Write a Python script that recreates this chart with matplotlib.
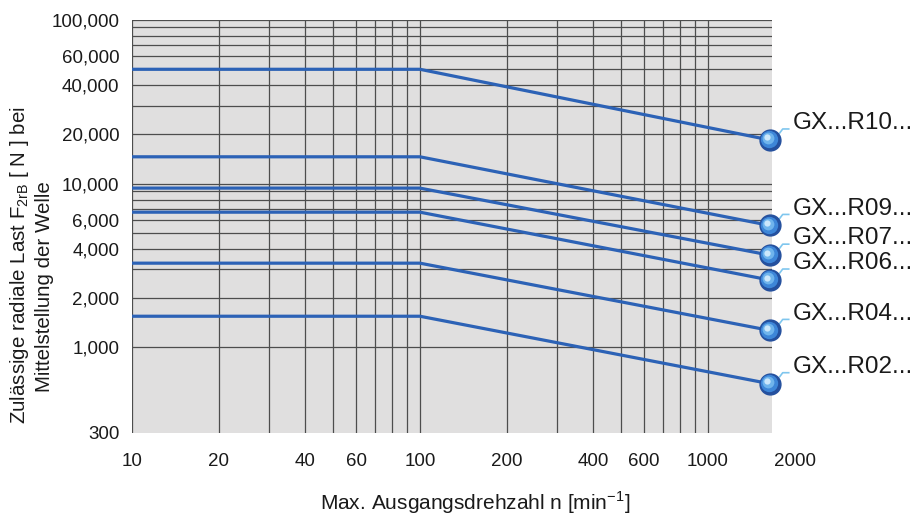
import matplotlib
matplotlib.use("Agg")
import matplotlib.pyplot as plt
import matplotlib.transforms as mtransforms
from matplotlib.ticker import FixedLocator, NullLocator

plt.rcParams['font.family'] = ['Liberation Sans', 'DejaVu Sans']
plt.rcParams['mathtext.fontset'] = 'custom'
plt.rcParams['mathtext.rm'] = 'Liberation Sans'

# speeds: start, knee, end  [min^-1]
speed = [10, 100, 1640]

# permissible radial load per gearbox size [N]: plateau value, value at end
sizes = ["GX...R10...", "GX...R09...", "GX...R07...", "GX...R06...", "GX...R04...", "GX...R02..."]
load_plateau = [50000, 14600, 9400, 6700, 3270, 1550]
load_end = [18500, 5560, 3660, 2580, 1270, 600]

y_ticks = [300, 1000, 2000, 4000, 6000, 10000, 20000, 40000, 60000, 100000]
y_ticklabels = ["300", "1,000", "2,000", "4,000", "6,000", "10,000", "20,000", "40,000", "60,000", "100,000"]
x_ticks = [10, 20, 40, 60, 100, 200, 400, 600, 1000]
x_ticklabels = ["10", "20", "40", "60", "100", "200", "400", "600", "1000"]

blue = '#2c62b6'
grey_bg = '#e0dfdf'
grid_col = '#4d4d4d'
txt_col = '#1a1a1a'

fig = plt.figure(figsize=(9.15, 5.17), dpi=100)
ax = fig.add_axes([0.1443, 0.1625, 0.6994, 0.7988])
ax.set_facecolor(grey_bg)
ax.set_xscale('log')
ax.set_yscale('log')
ax.set_xlim(10, 1670)
ax.set_ylim(300, 100000)
for s in ax.spines.values():
    s.set_visible(False)

# grid lines: 1..9 steps per decade (only from 1000 upward on y)
for dec in (10, 100):
    for k in range(1, 10):
        ax.axvline(dec * k, color=grid_col, lw=0.9, zorder=1)
ax.axvline(1000, color=grid_col, lw=0.9, zorder=1)
for dec in (1000, 10000):
    for k in range(1, 10):
        ax.axhline(dec * k, color=grid_col, lw=0.9, zorder=1)
ax.axhline(100000, color=grid_col, lw=0.9, zorder=1)

for name, p, e in zip(sizes, load_plateau, load_end):
    ax.plot(speed, [p, p, e], color=blue, lw=2.3, zorder=3, solid_capstyle='butt')
    x, y = speed[-1], e
    # glossy ball
    ax.plot(x, y, 'o', ms=15, color='#24509e', mec='#24509e', zorder=5, clip_on=False)
    ax.plot(x, y, 'o', ms=12.5, color='#3d86d8', mec='none', zorder=6, clip_on=False,
            transform=mtransforms.offset_copy(ax.transData, fig, x=-0.6, y=0.6, units='points'))
    ax.plot(x, y, 'o', ms=8.5, color='#6fb4ec', mec='none', zorder=7, clip_on=False,
            transform=mtransforms.offset_copy(ax.transData, fig, x=-1.2, y=1.2, units='points'))
    ax.plot(x, y, 'o', ms=4.5, color='#cbe7fb', mec='none', zorder=8, clip_on=False,
            transform=mtransforms.offset_copy(ax.transData, fig, x=-1.8, y=1.8, units='points'))
    # connector
    trans = fig.dpi_scale_trans + mtransforms.ScaledTranslation(x, y, ax.transData)
    ax.plot([0.10, 0.13, 0.19], [0.07, 0.11, 0.11], color='#7fc6ee', lw=1.2,
            transform=trans, clip_on=False, zorder=4)
    ax.annotate(name, xy=(x, y), xytext=(16.5, 12), textcoords='offset points',
                ha='left', va='center', fontsize=17.5, color=txt_col)

ax.yaxis.set_major_locator(FixedLocator(y_ticks))
ax.yaxis.set_minor_locator(NullLocator())
ax.set_yticklabels(y_ticklabels)
ax.xaxis.set_major_locator(FixedLocator(x_ticks))
ax.xaxis.set_minor_locator(NullLocator())
ax.set_xticklabels(x_ticklabels)
ax.tick_params(axis='both', length=0, labelsize=13.5, colors=txt_col)
ax.tick_params(axis='y', pad=9)
ax.tick_params(axis='x', pad=14.5)
ax.text(2000, -(14.5 * 100 / 72) / 413, "2000", transform=ax.get_xaxis_transform(),
        ha='center', va='top', fontsize=13.5, color=txt_col, clip_on=False)

fig.text(475 / 915, 1 - 503 / 517, r"Max. Ausgangsdrehzahl n [min$^{\mathregular{-1}}$]",
         ha='center', va='center', fontsize=15, color=txt_col)
fig.text(20 / 915, 1 - 265 / 517, r"Zulässige radiale Last F$_{\mathregular{2rB}}$ [ N ] bei",
         rotation=90, ha='center', va='center', fontsize=14.8, color=txt_col)
fig.text(45 / 915, 1 - 287 / 517, "Mittelstellung der Welle",
         rotation=90, ha='center', va='center', fontsize=14.8, color=txt_col)

fig.savefig("out.png", dpi=100)
